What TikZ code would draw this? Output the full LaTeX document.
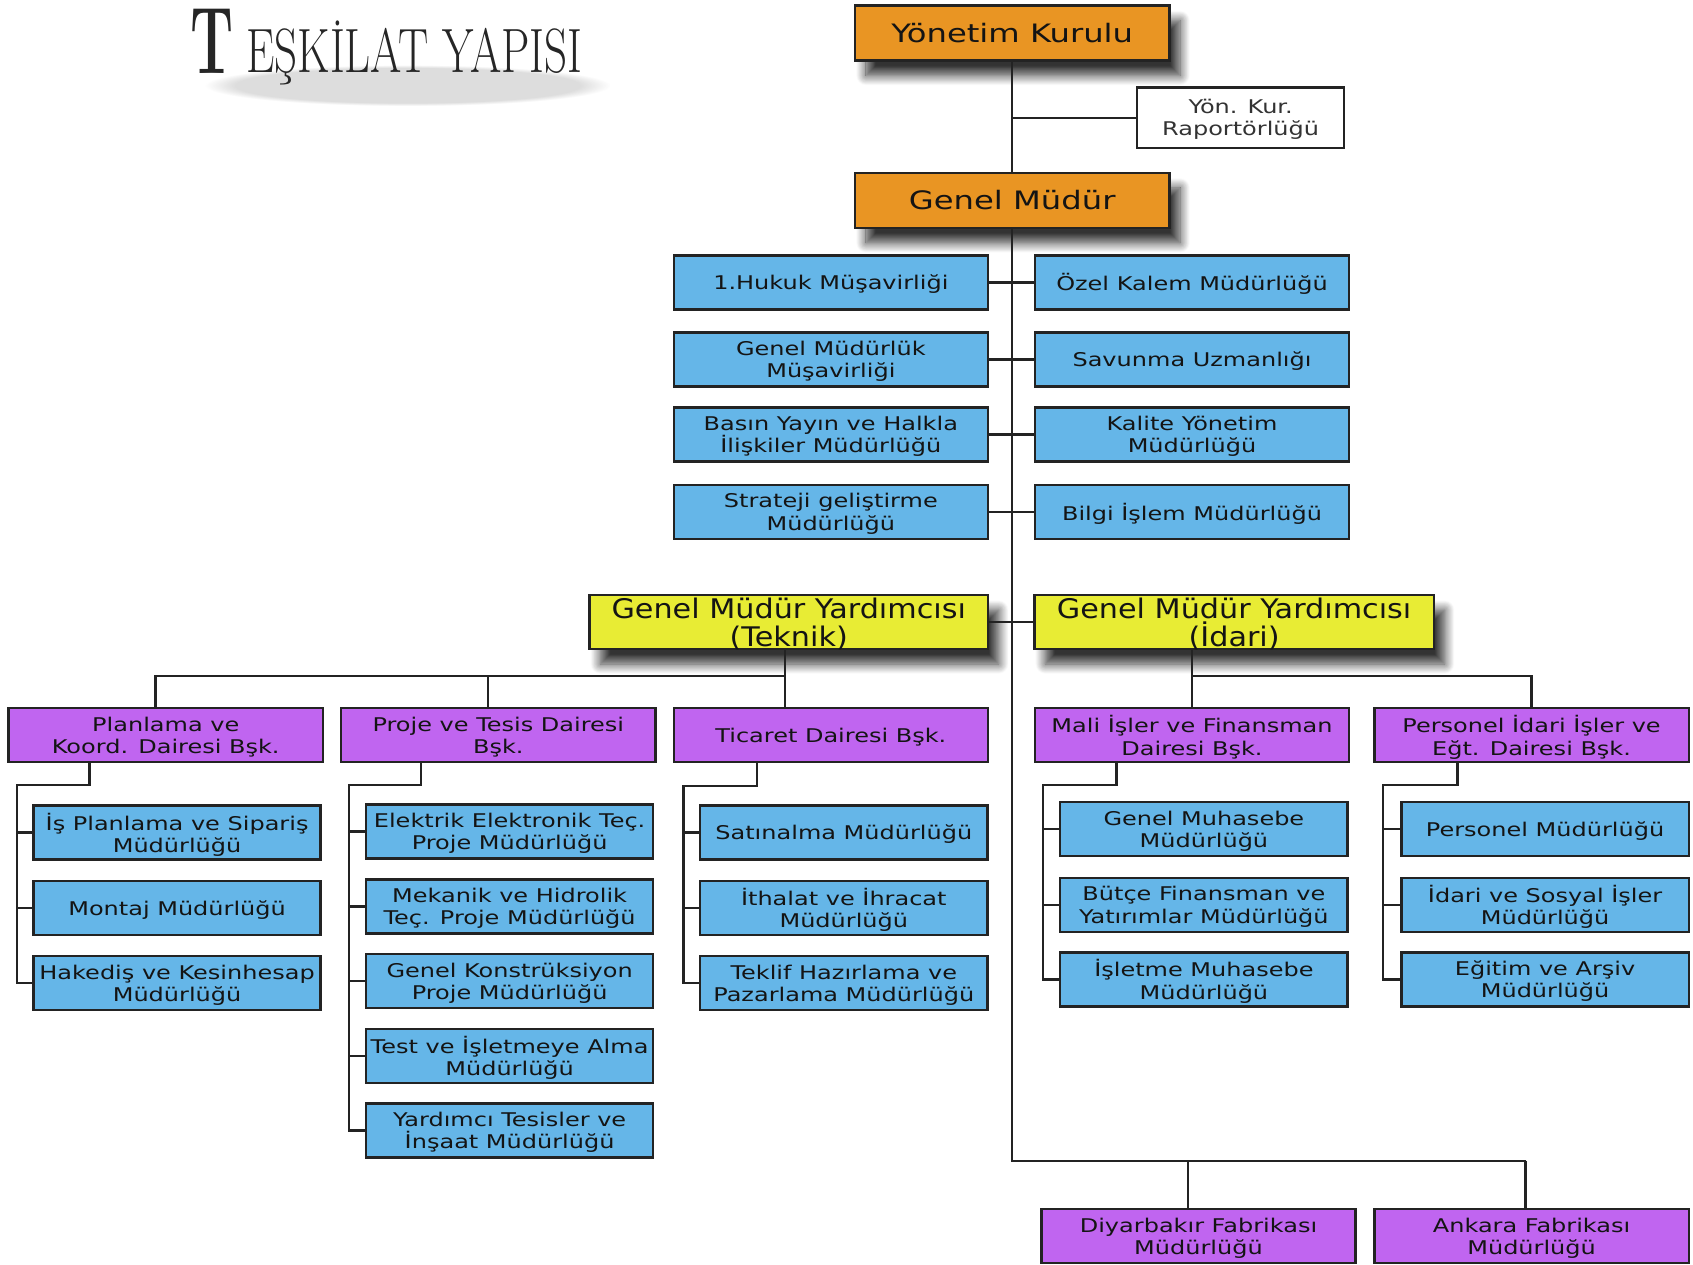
\documentclass[tikz,border=0pt]{standalone}
\usepackage{fontspec}
\newfontfamily\boxfont{DejaVu Sans}[FakeStretch=1.27]
\newfontfamily\gmyfont{DejaVu Sans}[FakeStretch=1.12]
\usetikzlibrary{shadows.blur,fadings}
\definecolor{edgecol}{RGB}{35,35,35}
\definecolor{txtcol}{RGB}{20,20,20}
\definecolor{orangecol}{RGB}{233,149,35}
\definecolor{bluecol}{RGB}{101,182,232}
\definecolor{purplecol}{RGB}{192,101,240}
\definecolor{yellowcol}{RGB}{232,236,52}
\tikzset{
  base/.style={draw=edgecol, line width=2.2pt, align=center, inner sep=0pt, text=txtcol,
    font=\boxfont\fontsize{17.5}{20.5}\selectfont, minimum height=50pt, text depth=0pt},
  bshadow/.style={blur shadow={shadow xshift=10pt, shadow yshift=-14pt, shadow blur radius=9pt,
    shadow blur steps=14, shadow opacity=80}},
  orangebox/.style={base, fill=orangecol, minimum width=291pt, minimum height=51pt,
    font=\boxfont\fontsize{23.5}{26}\selectfont, bshadow},
  rapbox/.style={base, fill=white, minimum width=192pt, minimum height=56pt, text=black!80},
  rowbox/.style={base, fill=bluecol, minimum width=291pt},
  yellowbox/.style={base, fill=yellowcol, minimum width=369pt,
    font=\gmyfont\fontsize{25}{26}\selectfont, bshadow},
  deptbox/.style={base, fill=purplecol, minimum width=291pt},
  subbox/.style={base, fill=bluecol, minimum width=266pt},
  conn/.style={draw=edgecol, line width=2.2pt},
}
\begin{document}
\begin{tikzpicture}[x=1pt, y=-1pt]
\useasboundingbox (0,0) rectangle (1568,1171);

% title
\fill[black!60, opacity=0.22, path fading=circle with fuzzy edge 15 percent] (190,60) rectangle (565,98);
\node[anchor=base west, inner sep=0pt, text=black!85] (tT) at (176,68) {\fontsize{88}{88}\selectfont\bfseries\scalebox{0.58}[1]{T}};
\node[anchor=base west, inner sep=0pt, text=black!85] (tRest) at (228,67) {\fontsize{58}{58}\selectfont\scalebox{0.72}[1]{EŞKİLAT YAPISI}};

% top
\node[orangebox] (yk) at (937.5,30.5) {Yönetim Kurulu};
\node[rapbox] (rap) at (1149,109) {Yön. Kur.\\Raportörlüğü};
\node[orangebox] (gm) at (937.5,185.5) {Genel Müdür};

% rows
\node[rowbox] (hukuk) at (769.5,261.5) {1.Hukuk Müşavirliği};
\node[rowbox] (ozel) at (1104,261.5) {Özel Kalem Müdürlüğü};
\node[rowbox] (gmmus) at (769.5,333) {Genel Müdürlük\\Müşavirliği};
\node[rowbox] (savunma) at (1104,333) {Savunma Uzmanlığı};
\node[rowbox] (basin) at (769.5,402.5) {Basın Yayın ve Halkla\\İlişkiler Müdürlüğü};
\node[rowbox] (kalite) at (1104,402.5) {Kalite Yönetim\\Müdürlüğü};
\node[rowbox] (strateji) at (769.5,474) {Strateji geliştirme\\Müdürlüğü};
\node[rowbox] (bilgi) at (1104,474) {Bilgi İşlem Müdürlüğü};

% deputies
\node[yellowbox] (gmyT) at (730.5,576) {Genel Müdür Yardımcısı\\(Teknik)};
\node[yellowbox, minimum width=370pt] (gmyI) at (1143,576) {Genel Müdür Yardımcısı\\(İdari)};

% departments
\node[deptbox] (plan) at (153.5,681) {Planlama ve\\Koord. Dairesi Bşk.};
\node[deptbox] (proje) at (461.5,681) {Proje ve Tesis Dairesi\\Bşk.};
\node[deptbox] (tic) at (769.5,681) {Ticaret Dairesi Bşk.};
\node[deptbox] (mali) at (1104,681) {Mali İşler ve Finansman\\Dairesi Bşk.};
\node[deptbox] (pers) at (1418.5,681) {Personel İdari İşler ve\\Eğt. Dairesi Bşk.};

% sub units
\node[subbox] (isplan) at (164,771) {İş Planlama ve Sipariş\\Müdürlüğü};
\node[subbox] (montaj) at (164,841) {Montaj Müdürlüğü};
\node[subbox] (hakedis) at (164,910.5) {Hakediş ve Kesinhesap\\Müdürlüğü};

\node[subbox] (elek) at (472,770) {Elektrik Elektronik Teç.\\Proje Müdürlüğü};
\node[subbox] (mek) at (472,839.5) {Mekanik ve Hidrolik\\Teç. Proje Müdürlüğü};
\node[subbox] (konst) at (472,908.5) {Genel Konstrüksiyon\\Proje Müdürlüğü};
\node[subbox] (test) at (472,978) {Test ve İşletmeye Alma\\Müdürlüğü};
\node[subbox] (yard) at (472,1047) {Yardımcı Tesisler ve\\İnşaat Müdürlüğü};

\node[subbox] (satin) at (781.5,771) {Satınalma Müdürlüğü};
\node[subbox] (ithal) at (781.5,841) {İthalat ve İhracat\\Müdürlüğü};
\node[subbox] (teklif) at (781.5,910.5) {Teklif Hazırlama ve\\Pazarlama Müdürlüğü};

\node[subbox] (genmuh) at (1115,768) {Genel Muhasebe\\Müdürlüğü};
\node[subbox] (butce) at (1115,838) {Bütçe Finansman ve\\Yatırımlar Müdürlüğü};
\node[subbox] (islet) at (1115,907) {İşletme Muhasebe\\Müdürlüğü};

\node[subbox] (persmd) at (1431,768) {Personel Müdürlüğü};
\node[subbox] (idari) at (1431,838) {İdari ve Sosyal İşler\\Müdürlüğü};
\node[subbox] (egitim) at (1431,907) {Eğitim ve Arşiv\\Müdürlüğü};

% factories
\node[deptbox] (diyar) at (1110,1145) {Diyarbakır Fabrikası\\Müdürlüğü};
\node[deptbox] (ankara) at (1418.5,1145) {Ankara Fabrikası\\Müdürlüğü};

% ---- connectors ----
\coordinate (mbot) at (937,1075);
\coordinate (bus) at (0,626);
\coordinate (b1) at (144,626);
\coordinate (b2) at (452,626);
\coordinate (b3) at (727,626);
\coordinate (fb1) at (1100,1075);
\coordinate (fb2) at (1413,1075);

\draw[conn] (yk.south) -- (gm.north);
\draw[conn] (rap.west) -- (rap.west -| yk.south);
\draw[conn] (gm.south) -- (gm.south |- mbot) -- (fb2);
\draw[conn] (fb1) -- (fb1 |- diyar.north);
\draw[conn] (fb2) -- (fb2 |- ankara.north);

\draw[conn] (hukuk.east) -- (ozel.west);
\draw[conn] (gmmus.east) -- (savunma.west);
\draw[conn] (basin.east) -- (kalite.west);
\draw[conn] (strateji.east) -- (bilgi.west);
\draw[conn] (gmyT.east) -- (gmyI.west);

\draw[conn] (gmyT.south -| b3) -- (b3 |- tic.north);
\draw[conn] (b1 |- plan.north) -- (b1) -- (b3);
\draw[conn] (b2) -- (b2 |- proje.north);
\draw[conn] (gmyI.south -| mali.north) -- (mali.north);
\draw[conn] (mali.north |- bus) -| (pers.north);

% Planlama column
\coordinate (pa) at (83,727); \coordinate (ps) at (16,727);
\draw[conn] (plan.south -| pa) -- (pa) -- (ps) |- (hakedis.west);
\draw[conn] (ps |- isplan.west) -- (isplan.west);
\draw[conn] (ps |- montaj.west) -- (montaj.west);

% Proje column
\coordinate (qa) at (390,727); \coordinate (qs) at (323,727);
\draw[conn] (proje.south -| qa) -- (qa) -- (qs) |- (yard.west);
\draw[conn] (qs |- elek.west) -- (elek.west);
\draw[conn] (qs |- mek.west) -- (mek.west);
\draw[conn] (qs |- konst.west) -- (konst.west);
\draw[conn] (qs |- test.west) -- (test.west);

% Ticaret column
\coordinate (ta) at (701,728); \coordinate (ts) at (633,728);
\draw[conn] (tic.south -| ta) -- (ta) -- (ts) |- (teklif.west);
\draw[conn] (ts |- satin.west) -- (satin.west);
\draw[conn] (ts |- ithal.west) -- (ithal.west);

% Mali column
\coordinate (ma) at (1034,727); \coordinate (ms) at (966,727);
\draw[conn] (mali.south -| ma) -- (ma) -- (ms) |- (islet.west);
\draw[conn] (ms |- genmuh.west) -- (genmuh.west);
\draw[conn] (ms |- butce.west) -- (butce.west);

% Personel column
\coordinate (ra) at (1350,727); \coordinate (rs) at (1281,727);
\draw[conn] (pers.south -| ra) -- (ra) -- (rs) |- (egitim.west);
\draw[conn] (rs |- persmd.west) -- (persmd.west);
\draw[conn] (rs |- idari.west) -- (idari.west);
\end{tikzpicture}
\end{document}
